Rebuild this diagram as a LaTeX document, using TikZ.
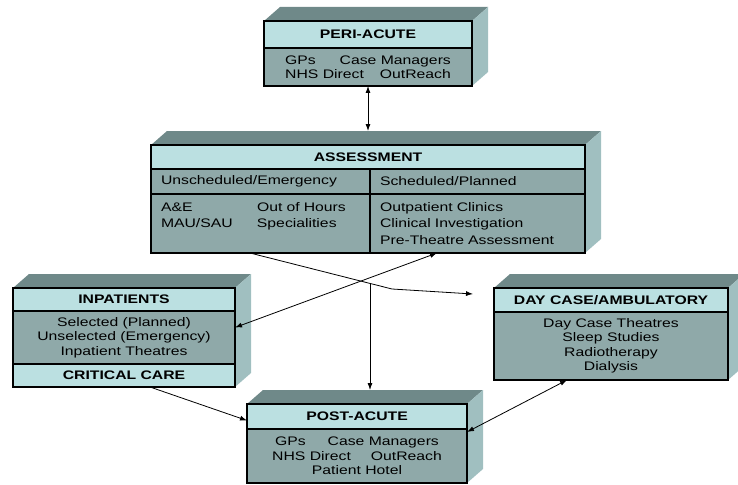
\documentclass[tikz,border=0pt]{standalone}
\usepackage{fontspec}
\setmainfont[FakeStretch=1.27]{Liberation Sans}
\usepackage{tikz}
\usetikzlibrary{arrows.meta}
\usetikzlibrary{positioning, backgrounds}
\definecolor{headCol}{HTML}{BBE0E1}
\definecolor{bodyCol}{HTML}{8FA9A9}
\definecolor{topCol}{HTML}{6F8989}
\definecolor{sideCol}{HTML}{A0BFC0}
\newcommand\boxfont{\fontsize{12.4}{14.5}\selectfont}
\newcommand\cellfont{\fontsize{12.4}{16.5}\selectfont}

\begin{document}
\begin{tikzpicture}[x=1pt, y=-1pt, >={Latex[length=7pt,width=5pt]}]
    \tikzstyle{cell}=[draw, line width=1.2pt, inner sep=0pt, outer sep=0pt, anchor=north west];
    \tikzstyle{headCell}=[cell, fill=headCol, font=\boxfont\bfseries];
    \tikzstyle{bodyCell}=[cell, fill=bodyCol, font=\boxfont, align=center];
    \tikzstyle{textCell}=[cell, fill=bodyCol, font=\cellfont, align=left, inner xsep=10pt];
    \tikzstyle{link}=[line width=0.8pt];
    \useasboundingbox (0,0) rectangle (738,484);

    % peri-acute
    \node[headCell, minimum width=208pt, minimum height=27pt] (periHead) at (264,21) {PERI-ACUTE};
    \node[bodyCell, minimum width=208pt, minimum height=38pt, below=0pt of periHead] (periBody)
        {GPs\hspace{24pt}Case Managers\\NHS Direct\hspace{16pt}OutReach};

    % assessment
    \node[headCell, minimum width=434pt, minimum height=24pt] (assessHead) at (151,145) {ASSESSMENT};
    \node[textCell, text width=199pt, minimum height=25pt] (assessUnsch) at (151,169) {Unscheduled/Emergency};
    \node[textCell, text width=195pt, minimum height=25pt] (assessSched) at (370,169) {Scheduled/Planned};
    \node[textCell, text width=199pt, minimum height=59pt] (assessEmerg) at (151,194)
        {\makebox[96pt][l]{A\&E}Out of Hours\\\makebox[96pt][l]{MAU/SAU}Specialities\\~};
    \node[textCell, text width=195pt, minimum height=59pt] (assessPlan) at (370,194)
        {Outpatient Clinics\\Clinical Investigation\\Pre-Theatre Assessment};

    % inpatients
    \node[headCell, minimum width=222pt, minimum height=23pt] (inpatHead) at (13,288) {INPATIENTS};
    \node[bodyCell, minimum width=222pt, minimum height=53pt, below=0pt of inpatHead] (inpatBody)
        {Selected (Planned)\\Unselected (Emergency)\\Inpatient Theatres};
    \node[headCell, minimum width=222pt, minimum height=23pt, below=0pt of inpatBody] (critCare) {CRITICAL CARE};

    % day case
    \node[headCell, minimum width=234pt, minimum height=24pt] (dayHead) at (494,288) {DAY CASE/AMBULATORY};
    \node[bodyCell, minimum width=234pt, minimum height=68pt, below=0pt of dayHead] (dayBody)
        {Day Case Theatres\\Sleep Studies\\Radiotherapy\\Dialysis};

    % post-acute
    \node[headCell, minimum width=220pt, minimum height=25pt] (postHead) at (247,404) {POST-ACUTE};
    \node[bodyCell, minimum width=220pt, minimum height=54pt, below=0pt of postHead] (postBody)
        {GPs\hspace{22pt}Case Managers\\NHS Direct\hspace{20pt}OutReach\\Patient Hotel};

    % 3d sides and frames
    \begin{scope}[on background layer]
        \foreach \hd/\bt in {periHead/periBody, assessHead/assessPlan, inpatHead/critCare,
                             dayHead/dayBody, postHead/postBody} {
            \fill[topCol] (\hd.north west) -- ++(16,-14) -- ([shift={(16,-14)}]\hd.north east) -- (\hd.north east) -- cycle;
            \fill[sideCol] (\hd.north east) -- ++(16,-14) -- ([shift={(16,-14)}]\bt.south east) -- (\bt.south east) -- cycle;
        }
    \end{scope}
    \foreach \hd/\bt in {periHead/periBody, assessHead/assessPlan, inpatHead/critCare,
                         dayHead/dayBody, postHead/postBody}
        \draw[line width=2.4pt] (\hd.north west) rectangle (\bt.south east);

    % connectors
    \coordinate (assessTop) at ([yshift=14pt]assessHead.north);
    \coordinate (postTop) at ([yshift=14pt]postHead.north);
    \coordinate (bend) at (392,289);
    \coordinate (dayIn) at (473,294);
    \draw[link, <->] (periBody.south) -- (assessTop);
    \draw[link, ->] ([xshift=99pt]assessEmerg.south west) -- coordinate[pos=0.845] (cross) (bend) -- (dayIn);
    \draw[link, ->] (cross) -- (cross |- postTop);
    \draw[link, <->] ([yshift=10pt]inpatBody.east) -- ([xshift=67pt]assessPlan.south west);
    \draw[link, ->] ([xshift=137pt]critCare.south west) -- ([yshift=-4pt]postHead.west);
    \draw[link, <->] ([yshift=-3pt]postBody.north east) -- ([xshift=73pt]dayBody.south west);
\end{tikzpicture}
\end{document}
